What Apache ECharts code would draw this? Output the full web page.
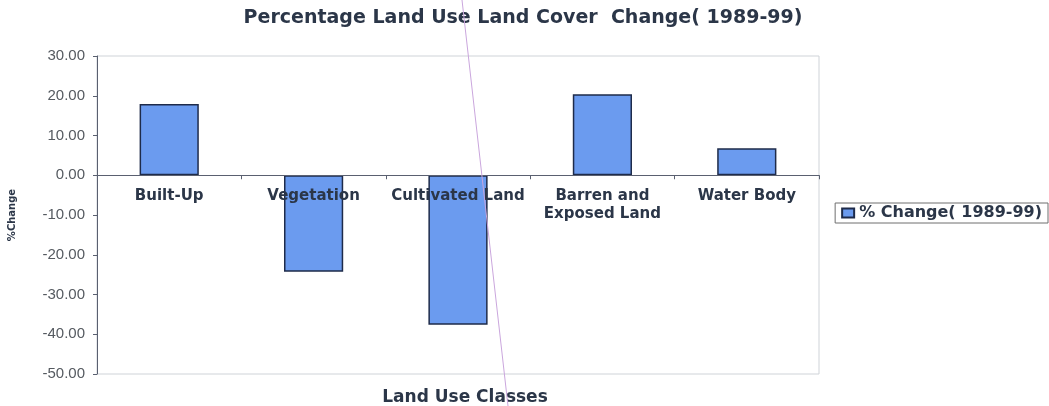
<!DOCTYPE html>
<html>
<head>
<meta charset="utf-8">
<script src="https://cdn.jsdelivr.net/npm/echarts@6/dist/echarts.min.js"></script>
<style>
  html, body { margin: 0; padding: 0; background: #fff; }
  #chart { width: 1049px; height: 406px; }
</style>
</head>
<body>
<div id="chart"></div>
<script>
// Land use classes and their percentage change between 1989 and 1999
const categories = ['Built-Up', 'Vegetation', 'Cultivated Land', 'Barren and\nExposed Land', 'Water Body'];
const changeValues = [17.9, -24.3, -37.6, 20.4, 6.8];
const seriesName = '% Change( 1989-99)';
const yTicks = { min: -50, max: 30, interval: 10 };

const boldFont = '"DejaVu Sans", "Liberation Sans", sans-serif';
const textDark = '#2b3648';

// plot box
const gridTop = 56, gridBottom = 32, chartHeight = 406;
const plotHeight = chartHeight - gridTop - gridBottom;
// the category axis sits on the zero line of the value axis
const zeroFromBottom = plotHeight * (0 - yTicks.min) / (yTicks.max - yTicks.min);

const chart = echarts.init(document.getElementById('chart'), null, { renderer: 'canvas' });

chart.setOption({
  backgroundColor: '#ffffff',
  animation: false,
  title: [
    {
      text: 'Percentage Land Use Land Cover  Change( 1989-99)',
      left: 518, top: 4, textAlign: 'center',
      textStyle: { fontFamily: boldFont, fontWeight: 'bold', fontSize: 19, color: textDark }
    },
    {
      text: 'Land Use Classes',
      left: 460, top: 384, textAlign: 'center',
      textStyle: { fontFamily: boldFont, fontWeight: 'bold', fontSize: 17, color: textDark }
    }
  ],
  legend: {
    data: [seriesName],
    right: 1, top: 203,
    orient: 'vertical',
    itemWidth: 12, itemHeight: 9,
    padding: [2, 6, 2, 6],
    borderColor: '#6f6f6f', borderWidth: 1,
    icon: 'rect',
    textStyle: { fontFamily: boldFont, fontWeight: 'bold', fontSize: 16, color: textDark }
  },
  grid: {
    left: 97, right: 230, top: gridTop, bottom: gridBottom,
    outerBoundsMode: 'none',
    show: true, borderColor: '#cfd3d8', borderWidth: 1, backgroundColor: 'transparent'
  },
  xAxis: {
    type: 'category',
    data: categories,
    boundaryGap: true,
    position: 'bottom',
    offset: -zeroFromBottom,
    z: 10,
    axisLine: { onZero: false, lineStyle: { color: '#5a6070', width: 1 } },
    axisTick: { show: true, length: 4, lineStyle: { color: '#5a6070' } },
    axisLabel: {
      interval: 0, margin: 12,
      fontFamily: boldFont, fontWeight: 'bold', fontSize: 15, lineHeight: 18,
      color: textDark
    }
  },
  yAxis: {
    type: 'value',
    min: yTicks.min, max: yTicks.max, interval: yTicks.interval,
    name: '%Change',
    nameLocation: 'middle',
    nameGap: 80,
    nameRotate: 90,
    nameTextStyle: { fontFamily: boldFont, fontWeight: 'bold', fontSize: 10, color: textDark },
    axisLine: { show: true, lineStyle: { color: '#5a6070', width: 1 } },
    axisTick: { show: true, length: 4, lineStyle: { color: '#5a6070' } },
    splitLine: { show: false },
    axisLabel: {
      margin: 12,
      fontFamily: '"Liberation Sans", Arial, sans-serif', fontSize: 15, color: '#555a60',
      formatter: v => v.toFixed(2)
    }
  },
  series: [{
    name: seriesName,
    type: 'bar',
    data: changeValues,
    barWidth: '41%',
    itemStyle: { color: '#6b9bef', borderColor: '#1e2b4a', borderWidth: 1.5 }
  }],
  graphic: [{
    // faint diagonal rule crossing the page
    type: 'line',
    z: 100,
    shape: { x1: 462, y1: 0, x2: 508, y2: 406 },
    style: { stroke: '#caa6dd', lineWidth: 1 }
  }]
});
</script>
</body>
</html>
